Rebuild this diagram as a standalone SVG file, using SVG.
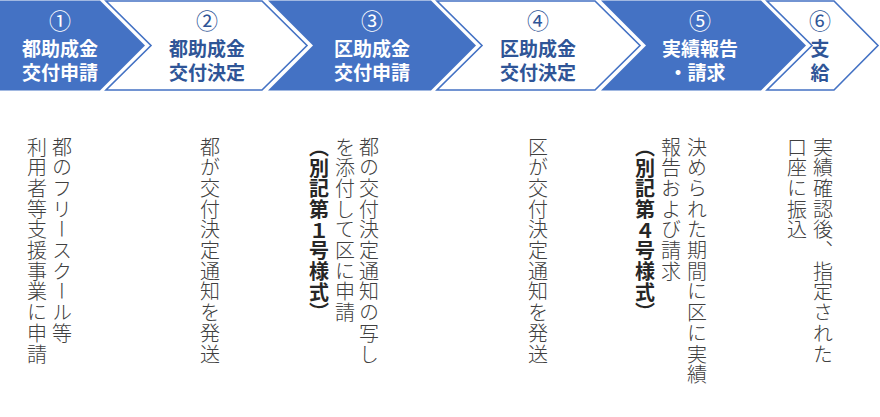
<svg xmlns="http://www.w3.org/2000/svg" width="880" height="417" viewBox="0 0 880 417">
<style>
.bl{fill:#4472C4;stroke:none}
.wh{fill:#FFFFFF;stroke:#4472C4;stroke-width:1.6}
.t{font-family:"Noto Sans CJK JP","Liberation Sans",sans-serif;font-size:19px;font-weight:bold;text-anchor:middle;dominant-baseline:central}
.n{font-size:22px;font-weight:normal}
.tw{fill:#FFFFFF}
.td{fill:#2F5597}
.v{font-family:"Noto Sans CJK JP","Liberation Sans",sans-serif;font-size:20px;font-weight:300;fill:#404040;writing-mode:vertical-rl;letter-spacing:0.7px}
.vb{font-weight:bold;fill:#262626}
</style>
<rect width="880" height="417" fill="#FFFFFF"/>
<g id="step1">
<polygon class="bl" points="0,0.5 100,0.5 145,45.5 100,90.5 0,90.5"/>
<text class="t n tw" x="60" y="19">①</text>
<text class="t tw" x="60" y="47">都助成金</text>
<text class="t tw" x="60" y="71">交付申請</text>
</g>
<g id="step2">
<polygon class="wh" points="106,1 262,1 307,45.5 262,90 106,90 151,45.5"/>
<text class="t n td" x="207" y="19">②</text>
<text class="t td" x="207" y="47">都助成金</text>
<text class="t td" x="207" y="71">交付決定</text>
</g>
<g id="step3">
<polygon class="bl" points="268,0.5 431,0.5 476,45.5 431,90.5 268,90.5 313,45.5"/>
<text class="t n tw" x="372" y="19">③</text>
<text class="t tw" x="372" y="47">区助成金</text>
<text class="t tw" x="372" y="71">交付申請</text>
</g>
<g id="step4">
<polygon class="wh" points="437,1 595,1 640,45.5 595,90 437,90 482,45.5"/>
<text class="t n td" x="538" y="19">④</text>
<text class="t td" x="538" y="47">区助成金</text>
<text class="t td" x="538" y="71">交付決定</text>
</g>
<g id="step5">
<polygon class="bl" points="601,0.5 761,0.5 806,45.5 761,90.5 601,90.5 646,45.5"/>
<text class="t n tw" x="700" y="19">⑤</text>
<text class="t tw" x="700" y="47">実績報告</text>
<text class="t tw" x="697" y="71">・請求</text>
</g>
<g id="step6">
<polygon class="wh" points="767,1 834,1 878,45.5 834,90 767,90 812,45.5"/>
<text class="t n td" x="820" y="19">⑥</text>
<text class="t td" x="820" y="47">支</text>
<text class="t td" x="820" y="71">給</text>
</g>
<g id="connectors"></g>
<g id="desc1">
<text class="v" x="62" y="137">都のフリースクール等</text>
<text class="v" x="37" y="137">利用者等支援事業に申請</text>
</g>
<g id="desc2">
<text class="v" x="210" y="137">都が交付決定通知を発送</text>
</g>
<g id="desc3">
<text class="v" x="369" y="137">都の交付決定通知の写し</text>
<text class="v" x="345" y="137">を添付して区に申請</text>
<text class="v vb" x="319" y="137">（</text>
<text class="v vb" x="319" y="158">別記第１号様式）</text>
</g>
<g id="desc4">
<text class="v" x="538" y="137">区が交付決定通知を発送</text>
</g>
<g id="desc5">
<text class="v" x="697" y="137">決められた期間に区に実績</text>
<text class="v" x="671" y="137">報告および請求</text>
<text class="v vb" x="645" y="137">（</text>
<text class="v vb" x="645" y="158">別記第４号様式）</text>
</g>
<g id="desc6">
<text class="v" x="823" y="137">実績確認後、指定された</text>
<text class="v" x="797" y="137">口座に振込</text>
</g>
</svg>
